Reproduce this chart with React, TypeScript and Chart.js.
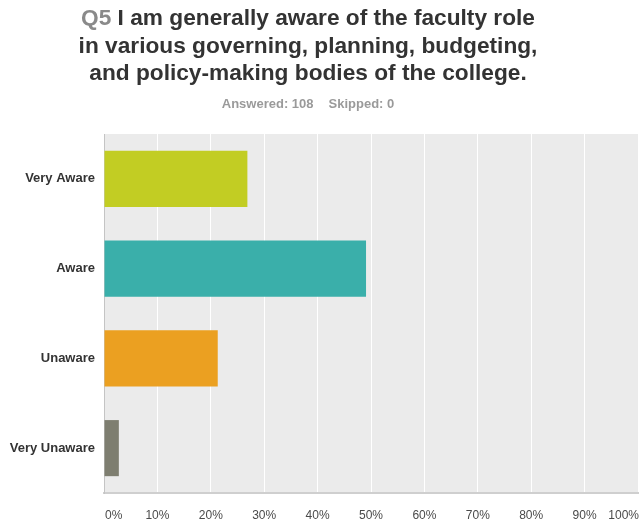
import React, { useEffect, useRef } from "react";
import { Chart, registerables } from "chart.js";

Chart.register(...registerables);

const categories = ["Very Aware", "Aware", "Unaware", "Very Unaware"];
const values = [26.85, 49.07, 21.3, 2.78];
const barColors = ["#c2cd23", "#3aafaa", "#eba021", "#7e7e70"];
const xTicks = [0, 10, 20, 30, 40, 50, 60, 70, 80, 90, 100];
const titleLines = [
  "I am generally aware of the faculty role",
  "in various governing, planning, budgeting,",
  "and policy-making bodies of the college.",
];
const questionId = "Q5";
const answeredText = "Answered: 108";
const skippedText = "Skipped: 0";

const FONT = "'Liberation Sans', Arial, sans-serif";

export default function App() {
  const ref = useRef<HTMLCanvasElement | null>(null);
  useEffect(() => {
    if (!ref.current) return;
    const bgPlugin = {
      id: "bg",
      beforeDraw(chart: any) {
        const { ctx, chartArea } = chart;
        ctx.save();
        ctx.fillStyle = "#ffffff";
        ctx.fillRect(0, 0, chart.width, chart.height);
        ctx.fillStyle = "#ebebeb";
        ctx.fillRect(chartArea.left, chartArea.top, chartArea.right - chartArea.left, chartArea.bottom - chartArea.top);
        ctx.restore();
      },
      afterDraw(chart: any) {
        const { ctx } = chart;
        const cx = 308;
        ctx.save();
        ctx.textBaseline = "middle";
        ctx.font = `bold 22.7px ${FONT}`;
        const first = titleLines[0];
        const qw = ctx.measureText(questionId + " ").width;
        const fw = ctx.measureText(first).width;
        const startX = cx - (qw + fw) / 2;
        ctx.textAlign = "left";
        ctx.fillStyle = "#8a8a8a";
        ctx.fillText(questionId + " ", startX, 19);
        ctx.fillStyle = "#333333";
        ctx.fillText(first, startX + qw, 19);
        ctx.textAlign = "center";
        ctx.fillText(titleLines[1], cx, 46.5);
        ctx.fillText(titleLines[2], cx, 74);
        ctx.font = `bold 13px ${FONT}`;
        ctx.fillStyle = "#9a9a9a";
        const aw = ctx.measureText(answeredText).width;
        const sw = ctx.measureText(skippedText).width;
        const gap = 15;
        const sx = cx - (aw + gap + sw) / 2;
        ctx.textAlign = "left";
        ctx.fillText(answeredText, sx, 104);
        ctx.fillText(skippedText, sx + aw + gap, 104);
        const xs = chart.scales.x;
        ctx.font = `12px ${FONT}`;
        ctx.fillStyle = "#4a4a4a";
        xTicks.forEach((t, i) => {
          const px = xs.getPixelForValue(t);
          if (i === 0) ctx.textAlign = "left";
          else if (i === xTicks.length - 1) ctx.textAlign = "right";
          else ctx.textAlign = "center";
          const drawX = i === 0 ? px + 1 : i === xTicks.length - 1 ? chart.width : px;
          ctx.fillText(t + "%", drawX, 516);
        });
        ctx.restore();
      },
    };
    const chart = new Chart(ref.current, {
      type: "bar",
      data: {
        labels: categories,
        datasets: [
          {
            data: values,
            backgroundColor: barColors,
            borderWidth: 0,
            barPercentage: 0.625,
            categoryPercentage: 1,
          },
        ],
      },
      options: {
        indexAxis: "y",
        animation: false,
        responsive: false,
        maintainAspectRatio: false,
        layout: { padding: { left: 0, top: 134, right: 1, bottom: 0 } },
        plugins: { legend: { display: false }, tooltip: { enabled: false }, title: { display: false } },
        scales: {
          x: {
            min: 0,
            max: 100,
            ticks: { display: false, stepSize: 10 },
            grid: { color: "#ffffff", lineWidth: 1, drawTicks: false },
            border: { color: "#cfcfcf", width: 2 },
            afterFit(s: any) {
              s.height = 30;
            },
          },
          y: {
            grid: { display: false, drawTicks: false },
            border: { color: "#c4c4c4", width: 1 },
            ticks: {
              padding: 9,
              color: "#333333",
              font: { family: FONT, size: 13, weight: "bold" },
            },
            afterFit(s: any) {
              s.width = 104;
            },
          },
        },
      },
      plugins: [bgPlugin],
    } as any);
    return () => chart.destroy();
  }, []);
  return (
    <div style={{ position: "absolute", left: 0, top: 0, width: 639, height: 523 }}>
      <canvas ref={ref} width={639} height={523} style={{ display: "block" }} />
    </div>
  );
}
